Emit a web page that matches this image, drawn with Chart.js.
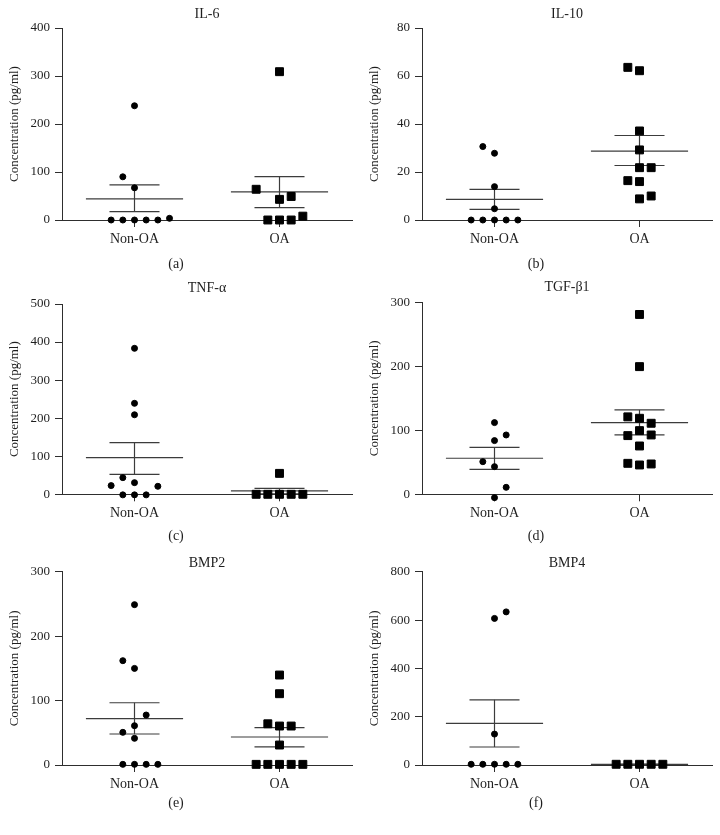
<!DOCTYPE html>
<html>
<head>
<meta charset="utf-8">
<script src="https://cdn.jsdelivr.net/npm/chart.js@4.4.0/dist/chart.umd.min.js"></script>
<style>
  html, body { margin: 0; padding: 0; background: #ffffff; }
  body { width: 720px; height: 835px; position: relative; overflow: hidden; }
  .panel { position: absolute; width: 360px; }
</style>
</head>
<body>
<div class="panel" id="box-a"><canvas id="chart-a"></canvas></div>
<div class="panel" id="box-b"><canvas id="chart-b"></canvas></div>
<div class="panel" id="box-c"><canvas id="chart-c"></canvas></div>
<div class="panel" id="box-d"><canvas id="chart-d"></canvas></div>
<div class="panel" id="box-e"><canvas id="chart-e"></canvas></div>
<div class="panel" id="box-f"><canvas id="chart-f"></canvas></div>
<script>
// ---------- data ----------
const groups = ['Non-OA', 'OA'];
const panelTitles = ['IL-6', 'IL-10', 'TNF-α', 'TGF-β1', 'BMP2', 'BMP4'];
const panelCaptions = ['(a)', '(b)', '(c)', '(d)', '(e)', '(f)'];
const yAxisTitle = 'Concentration (pg/ml)';
const yMax = [400, 80, 500, 300, 300, 800];
const yStep = [100, 20, 100, 100, 100, 200];

// IL-6
const il6NonOA = [238, 90, 67, 0, 0, 0, 0, 0, 3.5];
const il6NonOASlot = [0, -1, 0, -2, -1, 0, 1, 2, 3];
const il6OA = [309, 64, 43, 49, 8, 0, 0, 0];
const il6OASlot = [0, -2, 0, 1, 2, -1, 0, 1];
const il6Mean = [44, 58.5];
const il6SemLow = [17.4, 25.7];
const il6SemHigh = [73, 90.4];

// IL-10
const il10NonOA = [30.6, 27.8, 13.9, 4.7, 0, 0, 0, 0, 0];
const il10NonOASlot = [-1, 0, 0, 0, -2, -1, 0, 1, 2];
const il10OA = [63.6, 62.2, 37.1, 29.2, 21.8, 21.8, 16.4, 16, 8.8, 10];
const il10OASlot = [-1, 0, 0, 0, 0, 1, -1, 0, 0, 1];
const il10Mean = [8.6, 28.7];
const il10SemLow = [4.45, 22.7];
const il10SemHigh = [12.8, 35.2];

// TNF-alpha
const tnfNonOA = [383.5, 239, 209, 43.8, 30.6, 22.8, 21, -1.5, -1.5, -1.5];
const tnfNonOASlot = [0, 0, 0, -1, 0, -2, 2, -1, 0, 1];
const tnfOA = [55, 0, 0, 0, 0, 0];
const tnfOASlot = [0, -2, -1, 0, 1, 2];
const tnfMean = [96.3, 8.8];
const tnfSemLow = [52.5, 1];
const tnfSemHigh = [135.7, 15.8];

// TGF-beta1
const tgfNonOA = [112, 92.7, 83.9, 51, 43.2, 10.9, -5.2];
const tgfNonOASlot = [0, 1, 0, -1, 0, 1, 0];
const tgfOA = [281, 199.5, 121, 118.8, 111, 99.5, 91.7, 92.7, 75.5, 48.4, 45.8, 47.4];
const tgfOASlot = [0, 0, -1, 0, 1, 0, -1, 1, 0, -1, 0, 1];
const tgfMean = [56.3, 112];
const tgfSemLow = [39, 92.7];
const tgfSemHigh = [73.4, 131.8];

// BMP2
const bmp2NonOA = [249, 162, 150, 77.6, 61, 50.7, 41.4, 1, 1, 1, 1];
const bmp2NonOASlot = [0, -1, 0, 1, 0, -1, 0, -1, 0, 1, 2];
const bmp2OA = [139.7, 110.7, 64, 60.5, 60.5, 31, 1, 1, 1, 1, 1];
const bmp2OASlot = [0, 0, -1, 0, 1, 0, -2, -1, 0, 1, 2];
const bmp2Mean = [72, 43.5];
const bmp2SemLow = [48.1, 28];
const bmp2SemHigh = [96.7, 58];

// BMP4
const bmp4NonOA = [634, 607, 128, 3, 3, 3, 3, 3];
const bmp4NonOASlot = [1, 0, 0, -2, -1, 0, 1, 2];
const bmp4OA = [3, 3, 3, 3, 3];
const bmp4OASlot = [-2, -1, 0, 1, 2];
const bmp4Mean = [172, 3];
const bmp4SemLow = [74.5, 3];
const bmp4SemHigh = [270, 3];

// ---------- layout / style ----------
const FONT = "'Liberation Serif', 'Times New Roman', serif";
const TEXT = '#1e1e1e';
const AXIS = '#2e2e2e';
const LINE = '#3c3c3c';
const CENTERS = [1, 3];
const SLOT_STEP = 0.161;
const MEAN_HALF = 0.67;
const SEM_HALF = 0.345;
const BIG = 14;     // title, category labels, captions
const SMALL = 13;   // y tick labels, y title
const X_AXIS_H = 7 + 4 + BIG * 1.2;

const panelData = [
  [il6NonOA, il6NonOASlot, il6OA, il6OASlot, il6Mean, il6SemLow, il6SemHigh],
  [il10NonOA, il10NonOASlot, il10OA, il10OASlot, il10Mean, il10SemLow, il10SemHigh],
  [tnfNonOA, tnfNonOASlot, tnfOA, tnfOASlot, tnfMean, tnfSemLow, tnfSemHigh],
  [tgfNonOA, tgfNonOASlot, tgfOA, tgfOASlot, tgfMean, tgfSemLow, tgfSemHigh],
  [bmp2NonOA, bmp2NonOASlot, bmp2OA, bmp2OASlot, bmp2Mean, bmp2SemLow, bmp2SemHigh],
  [bmp4NonOA, bmp4NonOASlot, bmp4OA, bmp4OASlot, bmp4Mean, bmp4SemLow, bmp4SemHigh]
];

// box placement: left, top, height, title bottom pad, caption top pad
const boxes = [
  {left: 0,   top: 6,   height: 267, tPad: 5.2, cPad: 8.4},
  {left: 360, top: 6,   height: 267, tPad: 5.2, cPad: 8.4},
  {left: 0,   top: 280, height: 265, tPad: 7.2, cPad: 6.1},
  {left: 360, top: 279, height: 266, tPad: 6.5, cPad: 6.1},
  {left: 0,   top: 555, height: 257, tPad: 0,   cPad: 2.4},
  {left: 360, top: 555, height: 257, tPad: 0,   cPad: 2.4}
];

function pointsOf(values, slots, center) {
  return values.map((v, i) => ({x: center + slots[i] * SLOT_STEP, y: v}));
}
function segment(x1, y1, x2, y2) {
  return {
    type: 'scatter', data: [{x: x1, y: y1}, {x: x2, y: y2}],
    showLine: true, pointRadius: 0, borderColor: LINE, borderWidth: 1.2,
    backgroundColor: LINE, clip: false, order: 2
  };
}

['a', 'b', 'c', 'd', 'e', 'f'].forEach((key, p) => {
  const b = boxes[p];
  const el = document.getElementById('box-' + key);
  el.style.left = b.left + 'px';
  el.style.top = b.top + 'px';
  el.style.height = b.height + 'px';

  const [nonVals, nonSlots, oaVals, oaSlots, means, lows, highs] = panelData[p];
  const datasets = [
    {
      type: 'scatter', label: groups[0], data: pointsOf(nonVals, nonSlots, CENTERS[0]),
      pointStyle: 'circle', pointRadius: 3, borderWidth: 1,
      backgroundColor: '#000000', borderColor: '#000000', clip: false, order: 0
    },
    {
      type: 'scatter', label: groups[1], data: pointsOf(oaVals, oaSlots, CENTERS[1]),
      pointStyle: 'rect', pointRadius: 5.6, borderWidth: 1,
      backgroundColor: '#000000', borderColor: '#000000', clip: false, order: 0
    }
  ];
  CENTERS.forEach((c, g) => {
    datasets.push(segment(c - MEAN_HALF, means[g], c + MEAN_HALF, means[g]));
    datasets.push(segment(c - SEM_HALF, lows[g], c + SEM_HALF, lows[g]));
    datasets.push(segment(c - SEM_HALF, highs[g], c + SEM_HALF, highs[g]));
    datasets.push(segment(c, lows[g], c, highs[g]));
  });

  new Chart(document.getElementById('chart-' + key), {
    type: 'scatter',
    data: {datasets},
    options: {
      responsive: true,
      maintainAspectRatio: false,
      animation: false,
      events: [],
      layout: {padding: {left: 0, right: 8, top: 0, bottom: 0}},
      plugins: {
        legend: {display: false},
        tooltip: {enabled: false},
        title: {
          display: true, text: panelTitles[p], fullSize: false,
          color: TEXT, font: {family: FONT, size: BIG, weight: 'normal'},
          padding: {top: 0, bottom: b.tPad}
        },
        subtitle: {
          display: true, text: panelCaptions[p], position: 'bottom',
          color: TEXT, font: {family: FONT, size: BIG, weight: 'normal'},
          padding: {top: b.cPad, bottom: 0}
        }
      },
      scales: {
        x: {
          type: 'linear', min: 0, max: 4,
          afterBuildTicks: s => { s.ticks = CENTERS.map(v => ({value: v})); },
          afterFit: s => { s.height = X_AXIS_H; },
          ticks: {
            autoSkip: false, padding: 4, maxRotation: 0,
            color: TEXT, font: {family: FONT, size: BIG},
            callback: v => (v === CENTERS[0] ? groups[0] : v === CENTERS[1] ? groups[1] : '')
          },
          grid: {display: true, drawOnChartArea: false, drawTicks: true, tickLength: 7, color: AXIS, lineWidth: 1},
          border: {display: true, color: AXIS, width: 1}
        },
        y: {
          type: 'linear', min: 0, max: yMax[p],
          afterFit: s => { s.width = 62; },
          ticks: {
            stepSize: yStep[p], padding: 5,
            color: TEXT, font: {family: FONT, size: SMALL}
          },
          grid: {display: true, drawOnChartArea: false, drawTicks: true, tickLength: 7, color: AXIS, lineWidth: 1},
          border: {display: true, color: AXIS, width: 1},
          title: {
            display: true, text: yAxisTitle, color: TEXT,
            font: {family: FONT, size: SMALL}, padding: {top: 7, bottom: 0}
          }
        }
      }
    }
  });
});
</script>
</body>
</html>
